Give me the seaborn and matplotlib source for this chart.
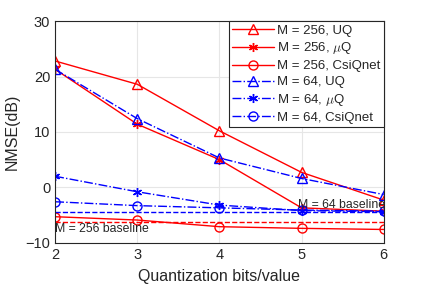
import matplotlib
matplotlib.use("Agg")
import matplotlib.pyplot as plt
import seaborn as sns

sns.set_theme(style="whitegrid")
plt.rcParams["font.family"] = ["Liberation Sans", "DejaVu Sans"]
plt.rcParams["mathtext.fontset"] = "cm"

bits = [2, 3, 4, 5, 6]

m256_uq = [22.8, 18.6, 10.2, 2.7, -2.3]
m256_muq = [21.3, 11.4, 5.0, -3.7, -4.3]
m256_csiqnet = [-5.3, -5.9, -7.1, -7.4, -7.6]
m64_uq = [21.3, 12.4, 5.3, 1.6, -1.3]
m64_muq = [2.0, -0.8, -3.2, -4.2, -4.4]
m64_csiqnet = [-2.6, -3.3, -3.7, -4.1, -4.3]

m256_baseline = -6.3
m64_baseline = -4.4

asterisk = (6, 2, 0)
series = [
    ("M = 256, UQ", m256_uq, "red", "-", "^"),
    ("M = 256, $\\mu$Q", m256_muq, "red", "-", asterisk),
    ("M = 256, CsiQnet", m256_csiqnet, "red", "-", "o"),
    ("M = 64, UQ", m64_uq, "blue", "-.", "^"),
    ("M = 64, $\\mu$Q", m64_muq, "blue", "-.", asterisk),
    ("M = 64, CsiQnet", m64_csiqnet, "blue", "-.", "o"),
]

fig, ax = plt.subplots(figsize=(4.24, 2.89), dpi=100)

for label, vals, color, ls, marker in series:
    sns.lineplot(x=bits, y=vals, ax=ax, color=color, linestyle=ls, marker=marker,
                 markersize=6.5, markerfacecolor="none", markeredgecolor=color,
                 markeredgewidth=1.0, linewidth=1.0, label=label)

ax.axhline(m256_baseline, color="red", linestyle="--", linewidth=1.0)
ax.axhline(m64_baseline, color="blue", linestyle="--", linewidth=1.0)
ax.text(2.0, -7.5, "M = 256 baseline", fontsize=8.8, va="center", ha="left")
ax.text(4.96, -3.2, "M = 64 baseline", fontsize=8.8, va="center", ha="left")

ax.set_xlim(2, 6)
ax.set_ylim(-10, 30)
ax.set_xticks(bits)
ax.set_yticks([-10, 0, 10, 20, 30])
ax.set_xlabel("Quantization bits/value", fontsize=11.5, labelpad=5)
ax.set_ylabel("NMSE(dB)", fontsize=11.5)
ax.tick_params(labelsize=10.5, direction="in", length=3, colors="#262626")
ax.grid(True, color="#e6e6e6", linewidth=0.8)
ax.set_facecolor("white")
for side in ax.spines.values():
    side.set_color("#262626")
    side.set_linewidth(0.8)

leg = ax.legend(loc="upper right", fontsize=9.5, frameon=True, fancybox=False,
                borderpad=0.25, labelspacing=0.28, handlelength=3.2,
                handletextpad=0.2, borderaxespad=0.0)
leg.get_frame().set_edgecolor("#262626")
leg.get_frame().set_linewidth(0.8)
leg.get_frame().set_alpha(1.0)

fig.subplots_adjust(left=0.13, right=0.905, top=0.927, bottom=0.16)
fig.savefig("out.png", dpi=100)
